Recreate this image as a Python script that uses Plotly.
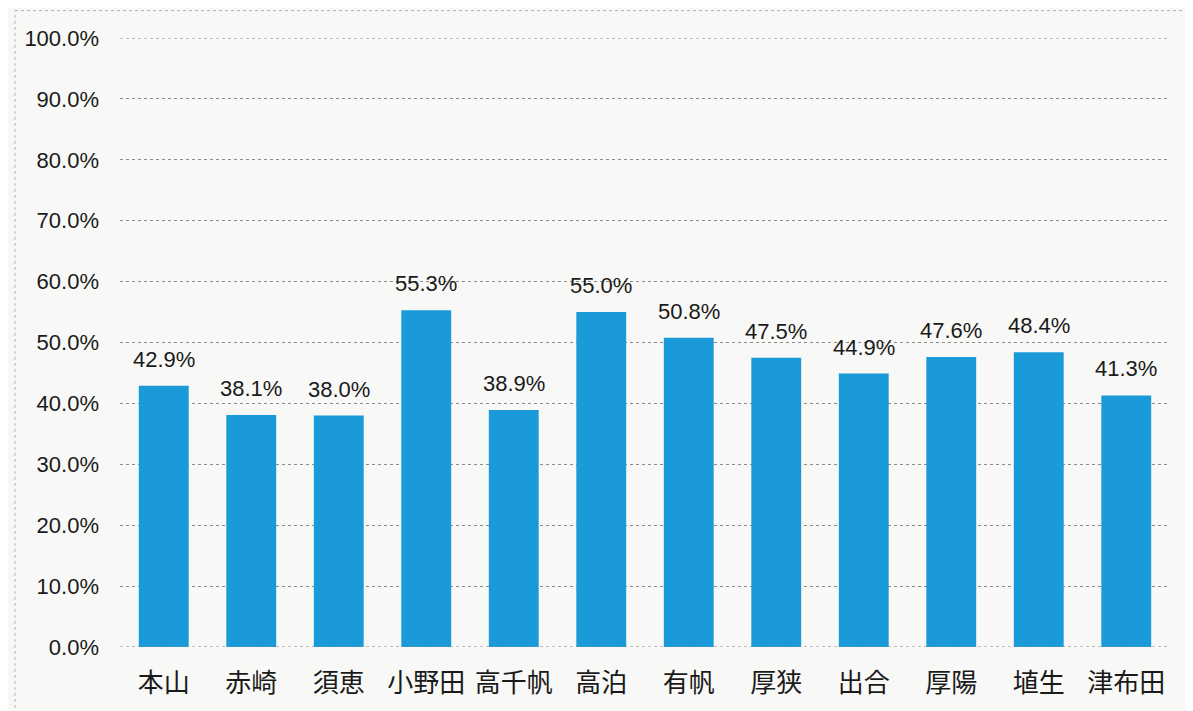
import plotly.graph_objects as go

categories = ["本山", "赤崎", "須恵", "小野田", "高千帆", "高泊", "有帆", "厚狭", "出合", "厚陽", "埴生", "津布田"]
values = [42.9, 38.1, 38.0, 55.3, 38.9, 55.0, 50.8, 47.5, 44.9, 47.6, 48.4, 41.3]
tick_vals = [0, 10, 20, 30, 40, 50, 60, 70, 80, 90, 100]
tick_text = [f"{v:.1f}%" for v in tick_vals]

num_font = "Liberation Sans, Arial, sans-serif"

fig = go.Figure(go.Bar(
    x=categories,
    y=values,
    marker=dict(color="#1a9ad8", line=dict(width=0)),
    width=0.57,
    cliponaxis=False,
))

annotations = [
    dict(x=c, y=v, xref="x", yref="y", text=f"{v:.1f}%", showarrow=False,
         yanchor="bottom", yshift=12,
         font=dict(family=num_font, size=22, color="#1a1a1a"))
    for c, v in zip(categories, values)
]

fig.update_layout(
    width=1193,
    height=711,
    margin=dict(l=112, r=31, t=30, b=72),
    paper_bgcolor="#f8f8f6",
    plot_bgcolor="#f8f8f6",
    showlegend=False,
    annotations=annotations,
    yaxis=dict(
        range=[0, 100],
        tickvals=tick_vals,
        ticktext=tick_text,
        tickfont=dict(family=num_font, size=22, color="#1a1a1a"),
        showgrid=True,
        gridcolor="#8a8a8a",
        griddash="dot",
        gridwidth=1,
        zeroline=False,
        showline=False,
        ticks="",
        ticklabelstandoff=20,
    ),
    xaxis=dict(
        tickfont=dict(family="Noto Sans CJK JP, sans-serif", size=26, color="#1a1a1a"),
        showline=False,
        ticks="",
        showgrid=False,
        ticklabelstandoff=18,
    ),
    shapes=[
        dict(type="line", xref="paper", yref="y", x0=0, x1=1, y0=0, y1=0,
             line=dict(color="#8a8a8a", width=1, dash="dot")),
        dict(type="line", xref="paper", yref="y", x0=0, x1=1, y0=100, y1=100,
             line=dict(color="#8a8a8a", width=1, dash="dot")),
        dict(type="line", xref="paper", yref="paper", x0=-0.1, x1=-0.1, y0=-0.1, y1=1.045,
             line=dict(color="#b0b0b0", width=1, dash="dot")),
        dict(type="line", xref="paper", yref="paper", x0=-0.1, x1=1.03, y0=1.045, y1=1.045,
             line=dict(color="#b0b0b0", width=1, dash="dot")),
    ],
)

fig.write_html("out.html")
